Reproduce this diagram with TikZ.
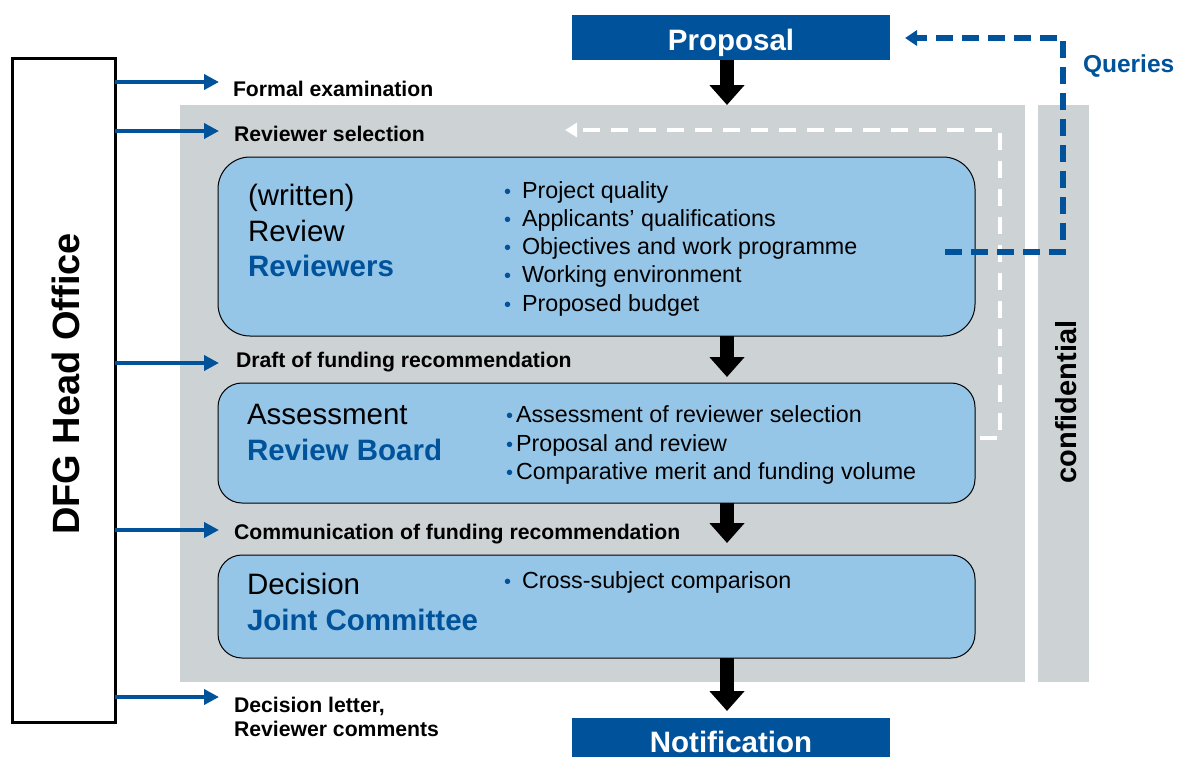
\documentclass[tikz,border=0pt]{standalone}
\usepackage{fontspec}
\setmainfont{Liberation Sans}
\usetikzlibrary{arrows.meta}
\definecolor{dfgblue}{RGB}{0,82,155}
\definecolor{boxblue}{RGB}{149,198,232}
\definecolor{panelgray}{RGB}{205,210,213}
\newcommand\myfs[1]{\fontsize{#1}{#1}\selectfont}
\newcommand\bul{{\color{dfgblue}\myfs{20}\textbullet}}
\begin{document}
\begin{tikzpicture}[x=1pt,y=-1pt,
  panel/.style={fill=panelgray,inner sep=0,outer sep=0,anchor=north west},
  stage/.style={fill=boxblue,draw=black,line width=1pt,inner sep=0,outer sep=0,anchor=north west},
  bluebox/.style={fill=dfgblue,inner sep=0,outer sep=0,anchor=north west},
  txt/.style={inner sep=0,outer sep=0,anchor=base west},
  title/.style={txt,font=\myfs{29.5}},
  btitle/.style={txt,font=\bfseries\myfs{29.5},text=dfgblue},
  item/.style={txt,font=\myfs{23.3}},
  side/.style={txt,font=\bfseries\myfs{21.2}},
  flow/.style={draw=black,line width=14pt,-{Triangle[length=20pt,width=34pt]}},
  office/.style={draw=dfgblue,line width=4pt,-{Triangle[length=15pt,width=15pt]}},
  feedback/.style={draw=white,line width=4pt,dash pattern=on 17pt off 11pt,-{Triangle[length=12pt,width=14pt]}},
  query/.style={draw=dfgblue,line width=5.5pt,dash pattern=on 17pt off 9pt,-{Triangle[length=12pt,width=15pt]}}]
\useasboundingbox (0,0) rectangle (1177,756);

% panels
\node[panel,minimum width=845pt,minimum height=577pt] (gray) at (180,105) {};
\node[panel,minimum width=51pt,minimum height=577pt] (conf) at (1038,105) {};
\node[rotate=90,font=\bfseries\myfs{29},inner sep=0] (conftxt) at (1066,402) {confidential};

% head office
\node[draw=black,line width=3pt,inner sep=0,outer sep=0,anchor=north west,minimum width=103pt,minimum height=664pt] (head) at (12,58) {};
\node[rotate=90,font=\bfseries\myfs{38},inner sep=0] (headtxt) at (66,384) {DFG Head Office};

% proposal / notification
\node[bluebox,minimum width=318pt,minimum height=45pt] (proposal) at (572,15) {};
\node[inner sep=0,anchor=base,font=\bfseries\myfs{29.5},text=white] (proptxt) at (731,50) {Proposal};
\node[bluebox,minimum width=318pt,minimum height=50pt] (notif) at (572,718) {};
\node[inner sep=0,anchor=base,font=\bfseries\myfs{29.5},text=white] (notiftxt) at (731,752) {Notification};

% stage boxes
\node[stage,rounded corners=32pt,minimum width=757pt,minimum height=179pt] (box1) at (218,157) {};
\node[stage,rounded corners=24pt,minimum width=757pt,minimum height=120pt] (box2) at (218,383) {};
\node[stage,rounded corners=24pt,minimum width=757pt,minimum height=103pt] (box3) at (218,555) {};

% box 1 text
\node[title] (t1a) at (248,205) {(written)};
\node[title] (t1b) at (248,241) {Review};
\node[btitle] (t1c) at (248,276) {Reviewers};
\node[item] (i11) at (504,198) {\makebox[18pt][l]{\bul}Project quality};
\node[item] (i12) at (504,226) {\makebox[18pt][l]{\bul}Applicants’ qualifications};
\node[item] (i13) at (504,254) {\makebox[18pt][l]{\bul}Objectives and work programme};
\node[item] (i14) at (504,282) {\makebox[18pt][l]{\bul}Working environment};
\node[item] (i15) at (504,311) {\makebox[18pt][l]{\bul}Proposed budget};

% box 2 text
\node[title] (t2a) at (247,424) {Assessment};
\node[btitle] (t2b) at (247,460) {Review Board};
\node[item] (i21) at (506,422) {\makebox[10pt][l]{\bul}Assessment of reviewer selection};
\node[item] (i22) at (506,451) {\makebox[10pt][l]{\bul}Proposal and review};
\node[item] (i23) at (506,479) {\makebox[10pt][l]{\bul}Comparative merit and funding volume};

% box 3 text
\node[title] (t3a) at (247,594) {Decision};
\node[btitle] (t3b) at (247,630) {Joint Committee};
\node[item] (i31) at (504,588) {\makebox[18pt][l]{\bul}Cross-subject comparison};

% side labels
\node[side] (l1) at (233,96) {Formal examination};
\node[side] (l2) at (234,141) {Reviewer selection};
\node[side] (l3) at (236,367) {Draft of funding recommendation};
\node[side] (l4) at (234,539) {Communication of funding recommendation};
\node[side] (l5) at (234,712) {Decision letter,};
\node[side] (l6) at (234,736) {Reviewer comments};
\node[txt,font=\bfseries\myfs{24.5},text=dfgblue] (queries) at (1083,72) {Queries};

% office arrows
\coordinate (a1) at (219,82);
\coordinate (a2) at (219,131);
\coordinate (a3) at (219,363);
\coordinate (a4) at (219,530);
\coordinate (a5) at (219,697);
\foreach \a in {a1,a2,a3,a4,a5}
  \draw[office] (head.east |- \a) -- (\a);

% main flow arrows
\coordinate (axis) at (727,0);
\draw[flow] (proposal.south -| axis) -- (gray.north -| axis);
\draw[flow,shorten >=6pt] (box1.south -| axis) -- (box2.north -| axis);
\draw[flow,shorten >=12pt] (box2.south -| axis) -- (box3.north -| axis);
\draw[flow,shorten >=7pt] (box3.south -| axis) -- (notif.north -| axis);

% feedback loops
\coordinate (fbstart) at (980,438);
\coordinate (fbend) at (565,130);
\draw[feedback] (fbstart) -- ++(20,0) |- (fbend);
\coordinate (qstart) at (945,252);
\coordinate (qend) at (905,38);
\draw[query] (qstart) -- (1063,252) |- (qend);
\end{tikzpicture}
\end{document}
